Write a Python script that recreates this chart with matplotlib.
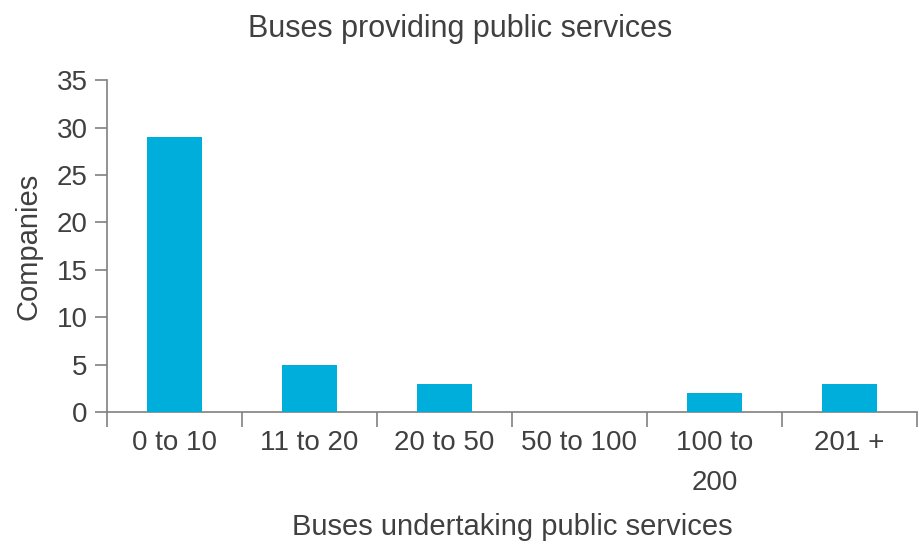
import numpy as np
import matplotlib
matplotlib.use('Agg')
from matplotlib import pyplot as plt

plt.rcParams['font.family'] = ['Liberation Sans', 'DejaVu Sans']

categories = ['0 to 10', '11 to 20', '20 to 50', '50 to 100', '100 to\n200', '201 +']
companies = [29, 5, 3, 0, 2, 3]
y_ticks = [0, 5, 10, 15, 20, 25, 30, 35]

text_col = '#404040'
axis_col = '#808080'
bar_col = '#00AEDB'

fig = plt.figure(figsize=(9.2, 5.45), dpi=100)
ax = fig.add_axes([0.1163, 0.244, 0.8804, 0.609])

x = np.arange(len(categories))
ax.bar(x, companies, width=0.41, color=bar_col, zorder=3)

ax.set_xlim(-0.5, len(categories) - 0.5)
ax.set_ylim(0, 35)
ax.set_yticks(y_ticks)
ax.set_yticklabels([str(v) for v in y_ticks], fontsize=20, color=text_col)

# category labels sit between the tick marks
ax.set_xticks(x)
ax.set_xticklabels(categories, fontsize=20, color=text_col, linespacing=1.7)
ax.tick_params(axis='x', length=0, pad=13)
ax.set_xticks(np.arange(len(categories) + 1) - 0.5, minor=True)
ax.tick_params(axis='x', which='minor', length=11, width=1.2, color=axis_col, direction='out')
ax.tick_params(axis='y', length=9, width=1.2, color=axis_col, direction='out', pad=5)

for s in ['top', 'right']:
    ax.spines[s].set_visible(False)
for s in ['left', 'bottom']:
    ax.spines[s].set_color(axis_col)
    ax.spines[s].set_linewidth(1.2)

ax.set_ylabel('Companies', fontsize=21, color=text_col, labelpad=10)
ax.set_xlabel('Buses undertaking public services', fontsize=21, color=text_col, labelpad=12)
fig.suptitle('Buses providing public services', fontsize=22, color=text_col, y=0.975)

fig.savefig('out.png', dpi=100)
